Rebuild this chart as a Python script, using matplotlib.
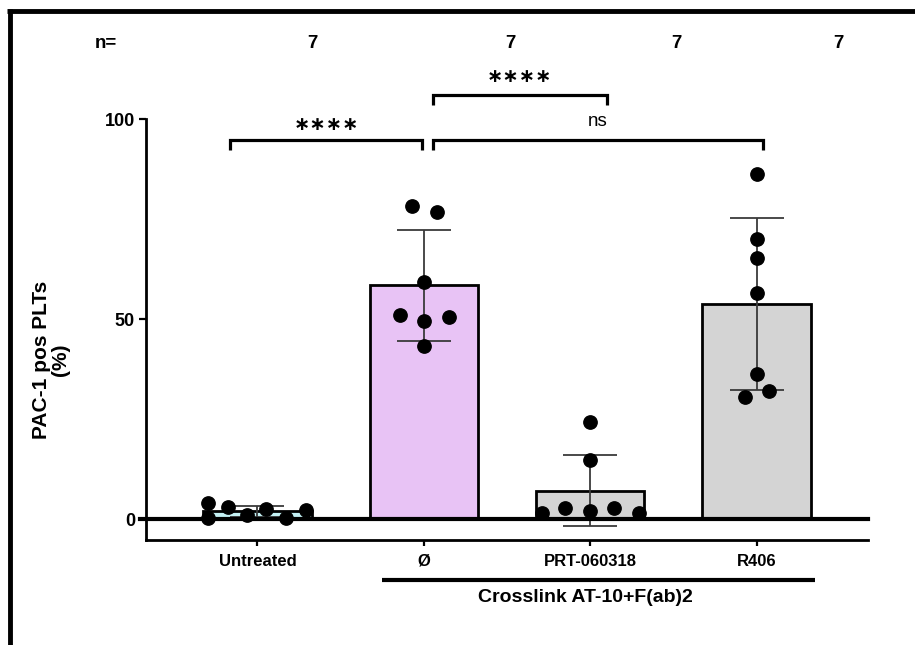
import numpy as np
import matplotlib
matplotlib.use("Agg")
import matplotlib.pyplot as plt
from matplotlib.lines import Line2D

plt.rcParams['font.family'] = ['Liberation Sans', 'DejaVu Sans']

# ---------------- data ----------------
categories = ["Untreated", "Ø", "PRT-060318", "R406"]
untreated = [3.9, 0.2, 3.1, 1.0, 2.4, 0.3, 2.25]
no_inhib = [78.25, 76.8, 59.3, 51.0, 49.6, 50.6, 43.25]
prt = [24.3, 14.75, 2.7, 2.1, 2.7, 1.4, 1.6]
r406 = [86.25, 69.9, 65.2, 56.6, 36.25, 32.1, 30.6]
n_labels = ["7", "7", "7", "7"]
group_label = "Crosslink AT-10+F(ab)2"
ylabel = "PAC-1 pos PLTs\n(%)"
yticks = [0, 50, 100]
sig_labels = ["∗∗∗∗", "∗∗∗∗", "ns"]

series = [untreated, no_inhib, prt, r406]

# ---------------- layout / style ----------------
bar_colors = ["#c4f1f4", "#e8c3f5", "#d4d4d4", "#d4d4d4"]
jitter = [
    [-0.30, -0.30, -0.18, -0.065, 0.05, 0.17, 0.29],
    [-0.072, 0.078, 0.0, -0.144, 0.0, 0.15, 0.0],
    [0.0, 0.0, -0.15, 0.0, 0.144, 0.293, -0.287],
    [0.0, 0.0, 0.0, 0.0, 0.0, 0.072, -0.072],
]

W, H = 915, 645
fig = plt.figure(figsize=(W / 100, H / 100), dpi=100)

def fx(px):
    return px / W

def fy(py):
    return 1 - py / H

ax = fig.add_axes([fx(146), fy(540), fx(868) - fx(146), fy(119) - fy(540)])

x = np.arange(len(categories))
means = [np.mean(s) for s in series]
sds = [np.std(s, ddof=1) for s in series]

ax.bar(x, means, width=0.65, color=bar_colors, edgecolor="black",
       linewidth=2.0, zorder=2)
ax.errorbar(x, means, yerr=sds, fmt="none", ecolor="#3a3a3a",
            elinewidth=1.3, capsize=19.5, capthick=1.3, zorder=3)
for i, s in enumerate(series):
    ax.plot(x[i] + np.array(jitter[i]), s, "o", color="black",
            markersize=9.6, zorder=4, clip_on=False)

ax.set_xlim(-0.67, 3.67)
ax.set_ylim(-5.25, 100)

# zero line
ax.axhline(0, xmin=-6 / 722, xmax=1.0, color="black", lw=3.0, zorder=5,
           clip_on=False)

for side in ["top", "right"]:
    ax.spines[side].set_visible(False)
ax.spines["left"].set_linewidth(2.0)
ax.spines["bottom"].set_linewidth(2.0)

ax.set_yticks(yticks)
ax.set_yticklabels([str(t) for t in yticks], fontsize=13, fontweight="bold")
ax.tick_params(axis="y", length=5, width=1.6, pad=3)
ax.set_xticks(x)
ax.set_xticklabels(categories, fontsize=12, fontweight="bold")
ax.tick_params(axis="x", length=4, width=1.6, pad=6)

# y label placed as figure text
fig.text(fx(51), fy(360), ylabel, rotation=90, ha="center", va="center",
         fontsize=15, fontweight="bold", linespacing=1.0,
         multialignment="center")

# significance brackets (data coordinates)
def bracket(x0, x1, y, leg, text, ty, fs, fam, bold):
    ax.plot([x0, x0, x1, x1], [y - leg, y, y, y - leg], color="black",
             lw=2.3, clip_on=False, solid_capstyle="butt",
             solid_joinstyle="miter")
    ax.text((x0 + x1) / 2, ty, text, ha="center", va="center", fontsize=fs,
            family=fam, fontweight="bold" if bold else "normal",
            clip_on=False)

bracket(-0.165, 0.99, 94.75, 2.6, sig_labels[0], 98.5, 14, "DejaVu Sans", True)
bracket(1.055, 3.04, 94.75, 2.6, sig_labels[2], 99.5, 13.5, "Liberation Sans", False)
bracket(1.055, 2.10, 106.0, 2.6, sig_labels[1], 110.5, 14, "DejaVu Sans", True)

# group line and label
fig.add_artist(Line2D([fx(382), fx(815)], [fy(580), fy(580)], color="black",
                      lw=3.0, solid_capstyle="butt"))
fig.text(fx(585), fy(598), group_label, ha="center", va="center",
         fontsize=14, fontweight="bold")

# n= row
fig.text(fx(106), fy(43), "n=", ha="center", va="center", fontsize=13.5,
         fontweight="bold")
for px, lab in zip([312, 510, 676, 838], n_labels):
    fig.text(fx(px), fy(43), lab, ha="center", va="center", fontsize=13.5,
             fontweight="bold")

# outer frame (top and left)
fig.add_artist(Line2D([fx(7), fx(915)], [fy(11), fy(11)], color="black",
                      lw=3.5, solid_capstyle="butt"))
fig.add_artist(Line2D([fx(10), fx(10)], [fy(9), fy(645)], color="black",
                      lw=3.5, solid_capstyle="butt"))

fig.savefig("out.png", dpi=100)
